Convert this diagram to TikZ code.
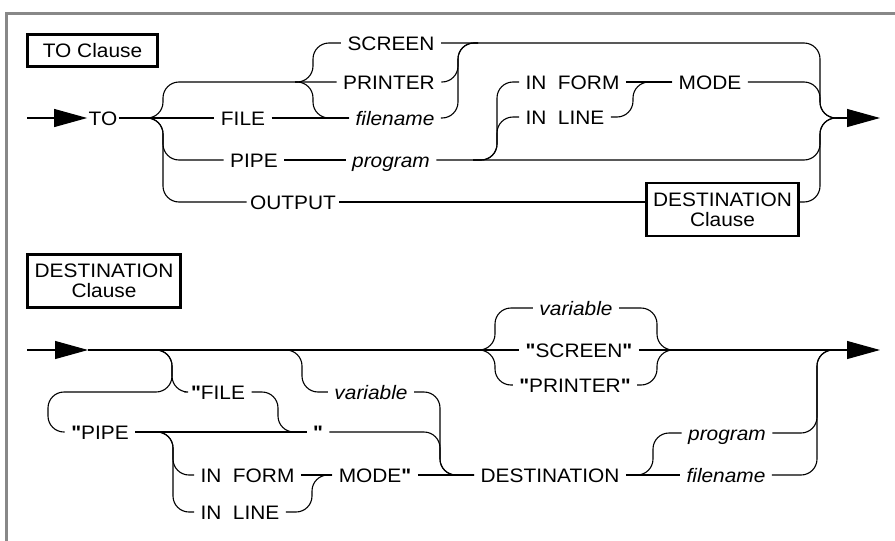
\documentclass[tikz,border=0pt]{standalone}
\usepackage{fontspec}
\newfontfamily\railfam{Liberation Sans}[FakeStretch=1.07]
\usepackage{tikz}
\usetikzlibrary{arrows.meta, positioning, calc}
\definecolor{framegray}{RGB}{136,136,136}
\newcommand{\railfont}{\railfam\fontsize{19.5}{20}\selectfont}
\newcommand{\qq}{\textbf{"}}
\tikzset{
  rail/.style={rounded corners=16pt},
  word/.style={font=\railfont, inner xsep=6pt, inner ysep=0pt, text height=14pt, text depth=0pt},
  ident/.style={word, font=\railfont\itshape},
  clause/.style={draw, line width=2.6pt, font=\railfont, align=center, inner sep=0pt},
  entry/.style={-{Triangle[length=33pt, width=18pt]}}
}

\begin{document}
\begin{tikzpicture}[x=1pt, y=-1pt, line width=1.1pt]
    \useasboundingbox (0,0) rectangle (895,541);
    \draw[framegray, line width=3pt] (895,13) -- (6,13) -- (6,541);

    % TO clause
    \node[clause, minimum width=130pt, minimum height=32pt] (toclause) at (92.5,50.5) {TO Clause};
    \coordinate (start1) at (27,118);
    \node[word, inner xsep=1pt] (to) at (103,118) {TO};
    \coordinate (b1) at (140,118);
    \coordinate (b2) at (295,82);
    \coordinate (b3) at (473,160);
    \coordinate (m1) at (458,43);
    \coordinate (m2) at (633,82);
    \coordinate (r1) at (820,118);
    \coordinate (e1) at (838,118);
    \coordinate (t1) at (880,118);
    \node[word] (file) at (243,118) {FILE};
    \node[word] (screen) at (391,43) {SCREEN};
    \node[word] (printer) at (389,82) {PRINTER};
    \node[ident] (fname) at (395,118) {filename};
    \node[word] (pipe) at (254,160) {PIPE};
    \node[ident] (prog) at (391,160) {program};
    \node[word, inner xsep=3pt] (output) at (293,202) {OUTPUT};
    \node[word, anchor=west] (inform) at (519,82) {IN~~FORM};
    \node[word, anchor=west] (inline) at (519,117) {IN~~LINE};
    \node[word] (mode) at (710,82) {MODE};
    \node[clause, minimum width=152pt, minimum height=53pt] (dbox) at (722.5,209.5) {DESTINATION\\Clause};

    \draw[entry] (start1) -- (to);
    \draw (to) -- (file);
    \draw (file) -- (fname);
    \draw[rail] (b1) -| (163,82) -- (b2) -- (printer);
    \draw[rail] (b2) -| (313,43) -- (screen);
    \draw[rail] (b2) -| (313,118) -- (fname);
    \draw[rail] (b1) -| (163,160) -- (pipe);
    \draw[rail] (b1) -| (163,202) -- (output);
    \draw (pipe) -- (prog);
    \draw[rail] (printer) -| (m1) -- ++(20,0);
    \draw[rail] (fname) -| (m1) -- ++(20,0);
    \draw[rail] (screen) -| (r1) -- (e1);
    \draw[rail] (b3) -| (497,82) -- (inform);
    \draw[rail] (b3) -| (497,117) -- (inline);
    \draw (inform) -- (mode);
    \draw[rail] (inline) -| (m2) -- (mode);
    \draw[rail] (mode) -| (r1) -- (e1);
    \draw[rail] (prog) -| (r1) -- (e1);
    \draw (output) -- (output -| dbox.west);
    \draw[rail] (dbox.east |- output) -| (r1) -- (e1);
    \draw[entry] (e1) -- (t1);

    % DESTINATION clause
    \node[clause, minimum width=153pt, minimum height=53pt] (dclause) at (104,281) {DESTINATION\\Clause};
    \coordinate (start2) at (27,350);
    \coordinate (a2) at (88,350);
    \coordinate (b4) at (153,350);
    \coordinate (b5) at (280,350);
    \coordinate (b6) at (150,432);
    \coordinate (b7) at (475,350);
    \coordinate (b8) at (630,475);
    \coordinate (m3) at (278,432);
    \coordinate (m4) at (312,475);
    \coordinate (v5) at (440,475);
    \coordinate (m7) at (657,350);
    \coordinate (r2) at (817,350);
    \coordinate (e2) at (838,350);
    \coordinate (t2) at (880,350);
    \node[word] (qfile) at (218,392) {\qq FILE};
    \node[word] (qpipe) at (100,432) {\qq PIPE};
    \node[word] (quote) at (318,432) {\qq};
    \node[ident] (var1) at (371,392) {variable};
    \node[word, anchor=west] (inform2) at (194,475) {IN~~FORM};
    \node[word, anchor=west] (inline2) at (194,512) {IN~~LINE};
    \node[word] (mode2) at (375,475) {MODE\qq};
    \node[word] (dest) at (550,475) {DESTINATION};
    \node[ident] (prog2) at (727,433) {program};
    \node[ident] (fn2) at (726,475) {filename};
    \node[ident] (var2) at (576,308) {variable};
    \node[word] (scr2) at (579,350) {\qq SCREEN\qq};
    \node[word] (prt2) at (575,385) {\qq PRINTER\qq};

    \draw[entry] (start2) -- (a2);
    \draw (a2) -- (scr2);
    \draw (scr2) -- (e2);
    \draw[rail] (b4) -| (172,392) -- (qfile);
    \draw[rail] (b4) -| (172,392) -| (48,432) -- (qpipe);
    \draw (qpipe) -- (quote);
    \draw[rail] (qfile) -| (m3) -- (quote);
    \draw[rail] (quote) -| (v5) -- (dest);
    \draw[rail] (b5) -| (302,392) -- (var1);
    \draw[rail] (var1) -| (v5) -- (dest);
    \draw[rail] (b6) -| (173,475) -- (inform2);
    \draw[rail] (b6) -| (173,512) -- (inline2);
    \draw (inform2) -- (mode2);
    \draw[rail] (inline2) -| (m4) -- (mode2);
    \draw (mode2) -- (dest);
    \draw (dest) -- (fn2);
    \draw[rail] (b8) -| (653,433) -- (prog2);
    \draw[rail] (prog2) -| (r2) -- (e2);
    \draw[rail] (fn2) -| (r2) -- (e2);
    \draw[rail] (b7) -| (495,308) -- (var2);
    \draw[rail] (b7) -| (495,385) -- (prt2);
    \draw[rail] (var2) -| (m7) -- ++(21,0);
    \draw[rail] (prt2) -| (m7) -- ++(21,0);
    \draw[entry] (e2) -- (t2);
\end{tikzpicture}
\end{document}
